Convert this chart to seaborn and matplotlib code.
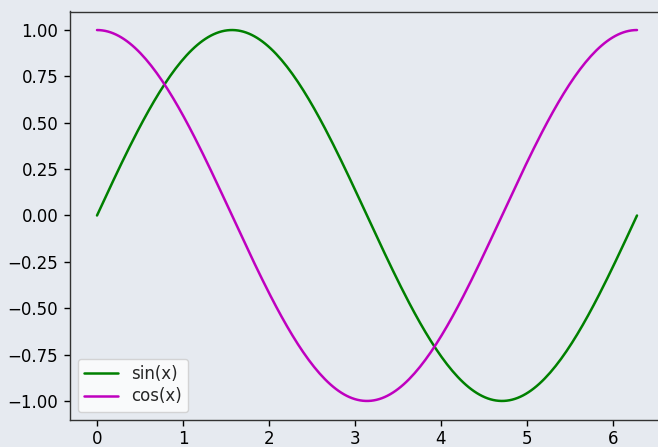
import numpy as np
import pandas as pd
import matplotlib
matplotlib.use("Agg")
import matplotlib.pyplot as plt
import seaborn as sns

# Sample points over one full period
x = np.linspace(0, 2 * np.pi, 200)
series_names = ["sin(x)", "cos(x)"]
series_values = [np.sin(x), np.cos(x)]
series_colors = ["#008000", "#bf00bf"]

df = pd.concat(
    [pd.DataFrame({"x": x, "y": v, "func": n}) for n, v in zip(series_names, series_values)],
    ignore_index=True,
)

bg = "#e6eaf0"
sns.set_style("ticks", {"axes.facecolor": bg, "figure.facecolor": bg})
plt.rcParams["font.family"] = ["DejaVu Sans"]

W, H = 658, 447
fig = plt.figure(figsize=(W / 100, H / 100), dpi=100)
left, right, top, bottom = 70, 664, 11.5, 419.5
ax = fig.add_axes([left / W, 1 - bottom / H, (right - left) / W, (bottom - top) / H])

sns.lineplot(data=df, x="x", y="y", hue="func", palette=dict(zip(series_names, series_colors)),
             ax=ax, linewidth=1.8)

ax.set_xlim(-0.1 * np.pi, 2 * np.pi * 1.05)
ax.set_ylim(-1.1, 1.1)
ax.set_xticks(range(0, 7))
yt = np.arange(-1.0, 1.01, 0.25)
ax.set_yticks(yt)
ax.set_yticklabels([f"{t:.2f}".replace("-", "\u2212") for t in yt])
ax.set_xlabel("")
ax.set_ylabel("")
ax.tick_params(labelsize=12, colors="black", length=4.2, width=1.0)
ax.tick_params(axis="x", pad=3.0)
ax.tick_params(axis="y", pad=4.2)
for s in ax.spines.values():
    s.set_visible(True)
    s.set_color("#333333")
    s.set_linewidth(1.0)

leg = ax.legend(loc="lower left", title=None, fontsize=12, frameon=True,
                labelspacing=0.25, borderaxespad=0.45)
leg.get_frame().set_facecolor("white")
leg.get_frame().set_edgecolor("#cccccc")

fig.savefig("out.png", dpi=100, facecolor=bg)
